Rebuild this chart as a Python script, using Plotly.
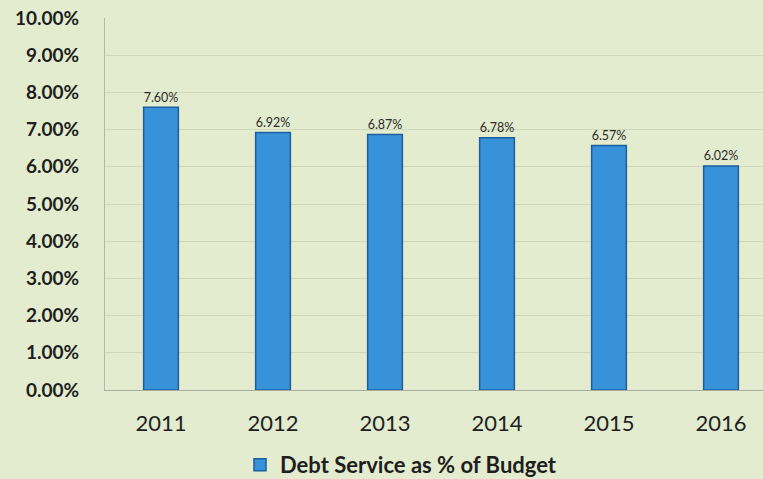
import plotly.graph_objects as go

years = ["2011", "2012", "2013", "2014", "2015", "2016"]
debt_service_pct = [7.60, 6.92, 6.87, 6.78, 6.57, 6.02]
y_ticks = [0, 1, 2, 3, 4, 5, 6, 7, 8, 9, 10]
y_tick_labels = [f"{v:.2f}%" for v in y_ticks]
series_name = "Debt Service as % of Budget"

bg = "#e3ecce"
font_family = "Lato, 'Open Sans', sans-serif"

fig = go.Figure()
fig.add_trace(go.Bar(
    x=list(range(len(years))),
    y=debt_service_pct,
    name=series_name,
    width=0.31,
    marker=dict(color="#3892da", line=dict(color="#1b5f9e", width=1.5)),
    text=[f"{v:.2f}%" for v in debt_service_pct],
    textposition="outside",
    cliponaxis=False,
    textfont=dict(family=font_family, size=14, color="#2a2a2a"),
    showlegend=True,
))

fig.update_layout(
    width=763, height=479,
    margin=dict(l=105, r=0, t=18, b=89, autoexpand=False),
    paper_bgcolor=bg,
    plot_bgcolor=bg,
    font=dict(family=font_family, color="#222222"),
    legend=dict(
        orientation="h",
        xref="container", x=240 / 763, xanchor="left",
        yref="container", y=(479 - 465) / 479, yanchor="middle",
        font=dict(family=font_family, size=22, color="#1e1e1e", weight="bold"),
        itemwidth=30,
        bgcolor="rgba(0,0,0,0)",
    ),
    xaxis=dict(
        tickmode="array",
        tickvals=list(range(len(years))),
        ticktext=years,
        range=[-0.5, 5.375],
        showgrid=False,
        showline=True, linecolor="#a8ae9c", linewidth=1,
        ticks="",
        tickfont=dict(family=font_family, size=22, color="#1e1e1e"),
        ticklabelstandoff=14,
    ),
    yaxis=dict(
        range=[0, 10],
        tickmode="array",
        tickvals=y_ticks,
        ticktext=y_tick_labels,
        showgrid=True, gridcolor="#cfd8ba", gridwidth=1,
        showline=True, linecolor="#b4baa6", linewidth=1,
        zeroline=False,
        ticks="",
        tickfont=dict(family=font_family, size=19, color="#1e1e1e", weight="bold"),
        ticklabelstandoff=21,
    ),
)

fig.write_html("out.html")
